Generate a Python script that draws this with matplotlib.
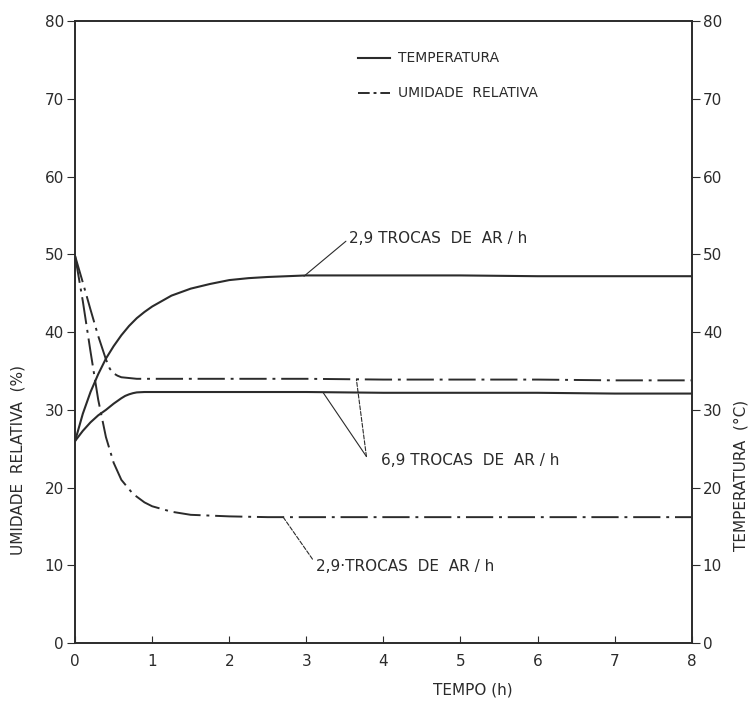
import matplotlib
matplotlib.use("Agg")
import matplotlib.pyplot as plt

# --- DONNEES ---
t_temp_29 = [0, 0.1, 0.2, 0.3, 0.4, 0.5, 0.6, 0.7, 0.8, 0.9, 1.0, 1.25, 1.5, 1.75, 2.0, 2.25, 2.5, 3.0, 4, 5, 6, 7, 8]
temp_29 = [26.0, 29.5, 32.3, 34.6, 36.6, 38.2, 39.6, 40.8, 41.8, 42.6, 43.3, 44.7, 45.6, 46.2, 46.7, 46.95, 47.1, 47.3, 47.3, 47.3, 47.2, 47.2, 47.2]

t_temp_69 = [0, 0.1, 0.2, 0.3, 0.4, 0.5, 0.6, 0.65, 0.7, 0.75, 0.8, 0.9, 1.0, 2, 3, 4, 5, 6, 7, 8]
temp_69 = [26.0, 27.3, 28.4, 29.3, 30.0, 30.8, 31.5, 31.8, 32.0, 32.15, 32.25, 32.3, 32.3, 32.3, 32.3, 32.2, 32.2, 32.2, 32.1, 32.1]

t_umid_69 = [0, 0.1, 0.2, 0.3, 0.4, 0.45, 0.5, 0.55, 0.6, 0.7, 0.8, 1.0, 2, 3, 4, 5, 6, 7, 8]
umid_69 = [49.8, 46.4, 42.9, 39.5, 36.5, 35.3, 34.7, 34.4, 34.2, 34.1, 34.0, 34.0, 34.0, 34.0, 33.9, 33.9, 33.9, 33.8, 33.8]

t_umid_29 = [0, 0.1, 0.2, 0.3, 0.4, 0.5, 0.6, 0.75, 0.9, 1.0, 1.25, 1.5, 2.0, 2.5, 3, 4, 5, 6, 7, 8]
umid_29 = [49.8, 44.0, 37.5, 31.3, 26.5, 23.2, 21.0, 19.2, 18.1, 17.6, 16.9, 16.5, 16.3, 16.2, 16.2, 16.2, 16.2, 16.2, 16.2, 16.2]

x_ticks = [0, 1, 2, 3, 4, 5, 6, 7, 8]
y_ticks = [0, 10, 20, 30, 40, 50, 60, 70, 80]

INK = "#2b2b2b"
DASHDOT = (14, 3, 1.5, 3)

plt.rcParams["font.family"] = ["DejaVu Sans"]

fig = plt.figure(figsize=(7.51, 7.09), dpi=100)
ax = fig.add_axes([0.100, 0.093, 0.821, 0.877])

# Courbes
ax.plot(t_temp_29, temp_29, color=INK, lw=1.5)
ax.plot(t_temp_69, temp_69, color=INK, lw=1.5)
ax.plot(t_umid_69, umid_69, color=INK, lw=1.4, dashes=DASHDOT)
ax.plot(t_umid_29, umid_29, color=INK, lw=1.4, dashes=DASHDOT)

ax.set_xlim(0, 8)
ax.set_ylim(0, 80)
ax.set_xticks(x_ticks)
ax.set_yticks(y_ticks)
ax.tick_params(axis="x", direction="in", length=5, colors=INK, labelsize=11, pad=8)
ax.tick_params(axis="y", direction="out", length=6, colors=INK, labelsize=11, pad=2)
for s in ax.spines.values():
    s.set_color(INK)
    s.set_linewidth(1.2)

# Axe droit (meme echelle)
ax2 = ax.twinx()
ax2.set_ylim(0, 80)
ax2.set_yticks(y_ticks)
ax2.tick_params(axis="y", direction="out", length=6, colors=INK, labelsize=11, pad=2)
for s in ax2.spines.values():
    s.set_color(INK)
    s.set_linewidth(1.2)

# Titres des axes
fig.text(18 / 751, 1 - 460 / 709, "UMIDADE  RELATIVA  (%)", rotation=90, ha="center", va="center",
         fontsize=11, color=INK)
fig.text(741 / 751, 1 - 475 / 709, "TEMPERATURA  (°C)", rotation=90, ha="center", va="center",
         fontsize=11, color=INK)
fig.text(473 / 751, 1 - 690 / 709, "TEMPO (h)", ha="center", va="center", fontsize=11, color=INK)

# Legende
leg_kw = dict(transform=fig.transFigure, color=INK)
ax.plot([358 / 751, 390 / 751], [1 - 58 / 709] * 2, lw=1.5, clip_on=False, **leg_kw)
ax.plot([358 / 751, 390 / 751], [1 - 93 / 709] * 2, lw=1.4, dashes=(6, 2, 1.5, 2), clip_on=False, **leg_kw)
fig.text(398 / 751, 1 - 58 / 709, "TEMPERATURA", ha="left", va="center", fontsize=10, color=INK)
fig.text(398 / 751, 1 - 93 / 709, "UMIDADE  RELATIVA", ha="left", va="center", fontsize=10, color=INK)

# Annotations
ax.annotate("2,9 TROCAS  DE  AR / h", xy=(2.97, 47.2), xytext=(3.55, 52.0),
            fontsize=11, color=INK, ha="left", va="center",
            arrowprops=dict(arrowstyle="-", color=INK, lw=0.8, shrinkA=0, shrinkB=0,
                            relpos=(0, 0.5)))
ax.annotate("", xy=(3.22, 32.2), xytext=(3.78, 24.0),
            arrowprops=dict(arrowstyle="-", color=INK, lw=0.8, shrinkA=0, shrinkB=0))
ax.annotate("", xy=(3.65, 33.9), xytext=(3.78, 24.0),
            arrowprops=dict(arrowstyle="-", color=INK, lw=0.8, linestyle="--", shrinkA=0, shrinkB=0))
ax.text(3.97, 23.5, "6,9 TROCAS  DE  AR / h", fontsize=11, color=INK, ha="left", va="center")
ax.annotate("", xy=(2.7, 16.2), xytext=(3.08, 10.8),
            arrowprops=dict(arrowstyle="-", color=INK, lw=0.8, linestyle="--", shrinkA=0, shrinkB=0))
ax.text(3.13, 9.9, "2,9·TROCAS  DE  AR / h", fontsize=11, color=INK, ha="left", va="center")

fig.savefig("out.png", dpi=100, facecolor="white")
